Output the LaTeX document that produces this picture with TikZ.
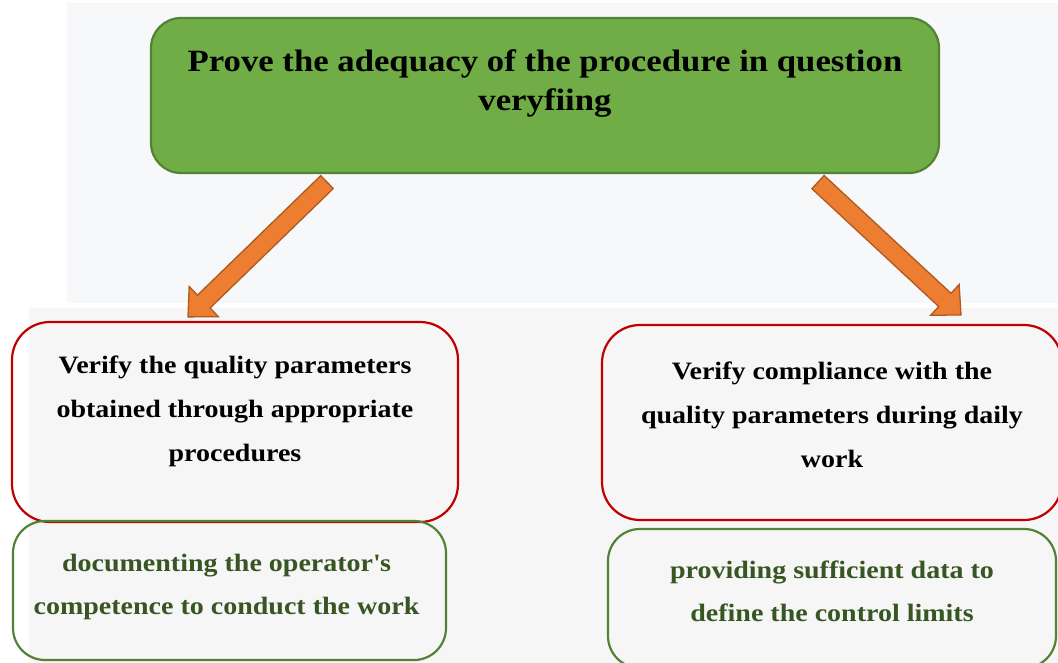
\documentclass[tikz,border=0pt]{standalone}
\usepackage{fontspec}
\setmainfont{Liberation Serif}[FakeStretch=1.12]
\usetikzlibrary{calc}

\definecolor{goalfill}{HTML}{70AD47}
\definecolor{goalline}{HTML}{548235}
\definecolor{checkline}{HTML}{C00000}
\definecolor{noteline}{HTML}{538135}
\definecolor{notegreen}{HTML}{375623}
\definecolor{arrowfill}{HTML}{ED7D31}
\definecolor{arrowline}{HTML}{AE5A21}
\definecolor{upperbg}{HTML}{F7F8FA}
\definecolor{lowerbg}{HTML}{F6F6F6}

\begin{document}
\begin{tikzpicture}[x=1pt, y=-1pt,
    goalbox/.style={draw=goalline, fill=goalfill, line width=2.2pt, rounded corners=30pt},
    checkbox/.style={draw=checkline, line width=2.2pt, rounded corners=38pt},
    notebox/.style={draw=noteline, line width=2.2pt, rounded corners=32pt},
    goaltext/.style={align=center, font=\fontsize{31}{39}\selectfont\bfseries},
    checktext/.style={align=center, font=\fontsize{25}{44}\selectfont\bfseries},
    notetext/.style={align=center, text=notegreen, font=\fontsize{25}{43}\selectfont\bfseries},
    fatarrow/.style={fill=arrowfill, draw=arrowline, line width=1.3pt, line join=miter,
        to path={($(\tikztostart)!9pt!90:(\tikztotarget)$)
            -- ($(\tikztotarget)!22pt!(\tikztostart)!9pt!90:(\tikztotarget)$)
            -- ($(\tikztotarget)!22pt!(\tikztostart)!21pt!90:(\tikztotarget)$)
            -- (\tikztotarget)
            -- ($(\tikztotarget)!22pt!(\tikztostart)!21pt!-90:(\tikztotarget)$)
            -- ($(\tikztotarget)!22pt!(\tikztostart)!9pt!-90:(\tikztotarget)$)
            -- ($(\tikztostart)!9pt!-90:(\tikztotarget)$) -- cycle}}]
    \useasboundingbox (0,0) rectangle (1058,663);
    \clip (0,0) rectangle (1058,663);

    % two pale panels behind everything
    \fill[upperbg] (67,3) rectangle (1058,303);
    \fill[lowerbg] (29,308) rectangle (1058,663);

    % goal on top
    \node[goalbox, minimum width=788pt, minimum height=155pt] (goal) at (545,95.5) {};
    \node[goaltext] (goaltxt) at ([yshift=12pt]goal.center) {Prove the adequacy of the procedure in question\\veryfiing};

    % the two checks
    \node[checkbox, minimum width=446pt, minimum height=200pt] (qualA) at (235,422) {};
    \node[checktext] (qualAtxt) at ([yshift=11pt]qualA.center) {Verify the quality parameters\\obtained through appropriate\\procedures};
    \node[checkbox, minimum width=460pt, minimum height=195pt] (qualB) at (832,422.5) {};
    \node[checktext] (qualBtxt) at ([yshift=8pt]qualB.center) {Verify compliance with the\\quality parameters during daily\\work};

    % what each check gives
    \node[notebox, minimum width=433pt, minimum height=139pt] (noteA) at (229.5,590.5) {};
    \node[notetext] (noteAtxt) at ([xshift=-3pt, yshift=4pt]noteA.center) {documenting the operator\textquotesingle s\\competence to conduct the work};
    \node[notebox, minimum width=448pt, minimum height=139pt] (noteB) at (832,598.5) {};
    \node[notetext] (noteBtxt) at ([yshift=7pt]noteB.center) {providing sufficient data to\\define the control limits};

    % block arrows
    \coordinate (ltail) at ([shift={(-218,8)}]goal.south);
    \coordinate (rtail) at ([shift={(273,8)}]goal.south);
    \coordinate (ltip) at ([shift={(-47,-4)}]qualA.north);
    \coordinate (rtip) at ([shift={(129,-9)}]qualB.north);
    \draw[fatarrow] (ltail) to (ltip);
    \draw[fatarrow] (rtail) to (rtip);
\end{tikzpicture}
\end{document}
